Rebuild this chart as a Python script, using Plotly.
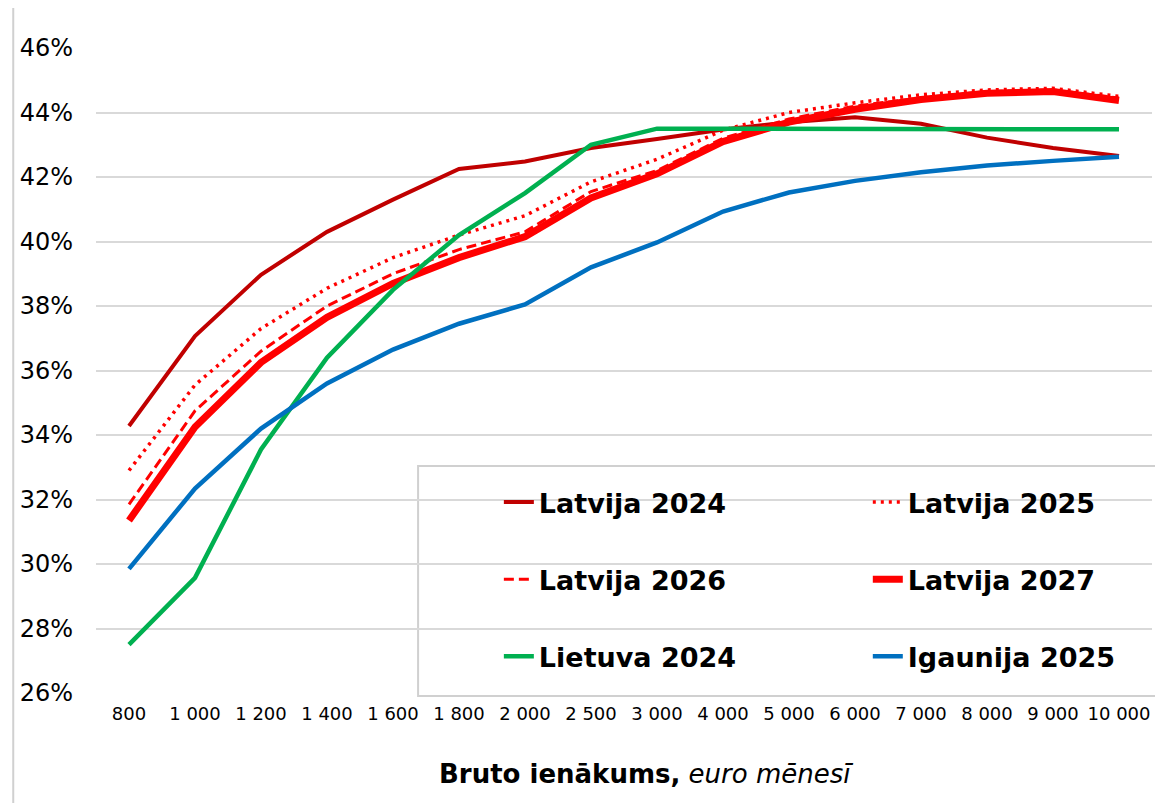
import plotly.graph_objects as go

categories = ["800", "1 000", "1 200", "1 400", "1 600", "1 800", "2 000", "2 500",
              "3 000", "4 000", "5 000", "6 000", "7 000", "8 000", "9 000", "10 000"]

latvija_2024 = [34.28, 37.07, 38.97, 40.30, 41.30, 42.25, 42.48, 42.90, 43.18, 43.47,
                43.70, 43.85, 43.65, 43.22, 42.90, 42.65]
latvija_2025 = [32.90, 35.55, 37.30, 38.55, 39.50, 40.20, 40.80, 41.85, 42.55, 43.45,
                44.00, 44.30, 44.55, 44.70, 44.75, 44.50]
latvija_2026 = [31.85, 34.75, 36.60, 38.00, 39.00, 39.75, 40.30, 41.55, 42.20, 43.20,
                43.80, 44.20, 44.45, 44.65, 44.70, 44.45]
latvija_2027 = [31.35, 34.25, 36.25, 37.65, 38.70, 39.50, 40.15, 41.35, 42.10, 43.10,
                43.70, 44.10, 44.40, 44.60, 44.65, 44.37]
lietuva_2024 = [27.50, 29.57, 33.55, 36.40, 38.50, 40.20, 41.50, 43.00, 43.50, 43.50,
                43.50, 43.50, 43.50, 43.50, 43.50, 43.48]
igaunija_2025 = [29.85, 32.34, 34.20, 35.60, 36.65, 37.45, 38.05, 39.20, 39.97, 40.93,
                 41.52, 41.88, 42.15, 42.36, 42.50, 42.63]

y_ticks = [26, 28, 30, 32, 34, 36, 38, 40, 42, 44, 46]
y_tick_labels = [f"{v}%" for v in y_ticks]

FONT = "Verdana, DejaVu Sans, sans-serif"

series = [
    ("Latvija 2024", latvija_2024, dict(color="#C00000", width=4), "legend"),
    ("Latvija 2025", latvija_2025, dict(color="#FF0000", width=3.5, dash="3px,5px"), "legend2"),
    ("Latvija 2026", latvija_2026, dict(color="#FF0000", width=3, dash="10px,5px"), "legend"),
    ("Latvija 2027", latvija_2027, dict(color="#FF0000", width=7), "legend2"),
    ("Lietuva 2024", lietuva_2024, dict(color="#00B050", width=4.5), "legend"),
    ("Igaunija 2025", igaunija_2025, dict(color="#0070C0", width=4.5), "legend2"),
]

fig = go.Figure()
for name, vals, line, lg in series:
    fig.add_trace(go.Scatter(
        x=categories, y=vals, name=name, mode="lines",
        line=dict(shape="linear", **line),
        legend=lg, legendgroup=name,
    ))

# page offset of the plot div (body margin)
OFF = 8
FIG_W, FIG_H = 1163, 803
# plot area in screen pixels
S_L, S_R = 93, 1152
S_T, S_B = 48, 693
L, R = S_L - OFF, S_R - OFF
T, B = S_T - OFF, S_B - OFF


def px(x):
    return (x - S_L) / (S_R - S_L)


def py(y):
    return (S_B - y) / (S_B - S_T)


legend_common = dict(
    orientation="v",
    font=dict(family=FONT, size=27, color="#000000", weight="bold"),
    bgcolor="rgba(0,0,0,0)",
    borderwidth=0,
    tracegroupgap=39,
    yanchor="top",
    xanchor="left",
    itemclick=False,
)

fig.update_layout(
    width=FIG_W, height=FIG_H,
    margin=dict(l=L, r=FIG_W - R, t=T, b=FIG_H - B),
    paper_bgcolor="white",
    plot_bgcolor="white",
    font=dict(family=FONT, color="#000000"),
    showlegend=True,
    legend=dict(x=px(497), y=py(478), **legend_common),
    legend2=dict(x=px(867), y=py(478), **legend_common),
    xaxis=dict(
        type="category",
        categoryorder="array",
        categoryarray=categories,
        range=[-0.5, len(categories) - 0.5],
        showgrid=False,
        showline=False,
        zeroline=False,
        ticks="",
        tickfont=dict(family=FONT, size=18, color="#000000"),
        ticklabelstandoff=8,
    ),
    yaxis=dict(
        range=[26, 46],
        tickmode="array",
        tickvals=y_ticks,
        ticktext=y_tick_labels,
        showgrid=True,
        gridcolor="#D9D9D9",
        gridwidth=2,
        showline=False,
        zeroline=False,
        ticks="",
        tickfont=dict(family=FONT, size=24, color="#000000"),
        ticklabelstandoff=22,
    ),
    shapes=[
        # legend box
        dict(type="rect", xref="paper", yref="paper",
             x0=px(416), x1=px(1156), y0=py(696), y1=py(466),
             line=dict(color="#D0D0D0", width=2), fillcolor="white", layer="between"),
        # outer chart border
        dict(type="rect", xref="paper", yref="paper",
             x0=px(10), x1=px(1180), y0=py(830), y1=py(6),
             line=dict(color="#D0D0D0", width=2), fillcolor="rgba(0,0,0,0)", layer="above"),
    ],
    annotations=[
        dict(text="<b>Bruto ienākums,</b> <i>euro mēnesī</i>",
             xref="paper", yref="paper", x=px(645), y=py(774),
             xanchor="center", yanchor="middle", showarrow=False,
             font=dict(family=FONT, size=26, color="#000000")),
    ],
)

fig.write_html("out.html")
